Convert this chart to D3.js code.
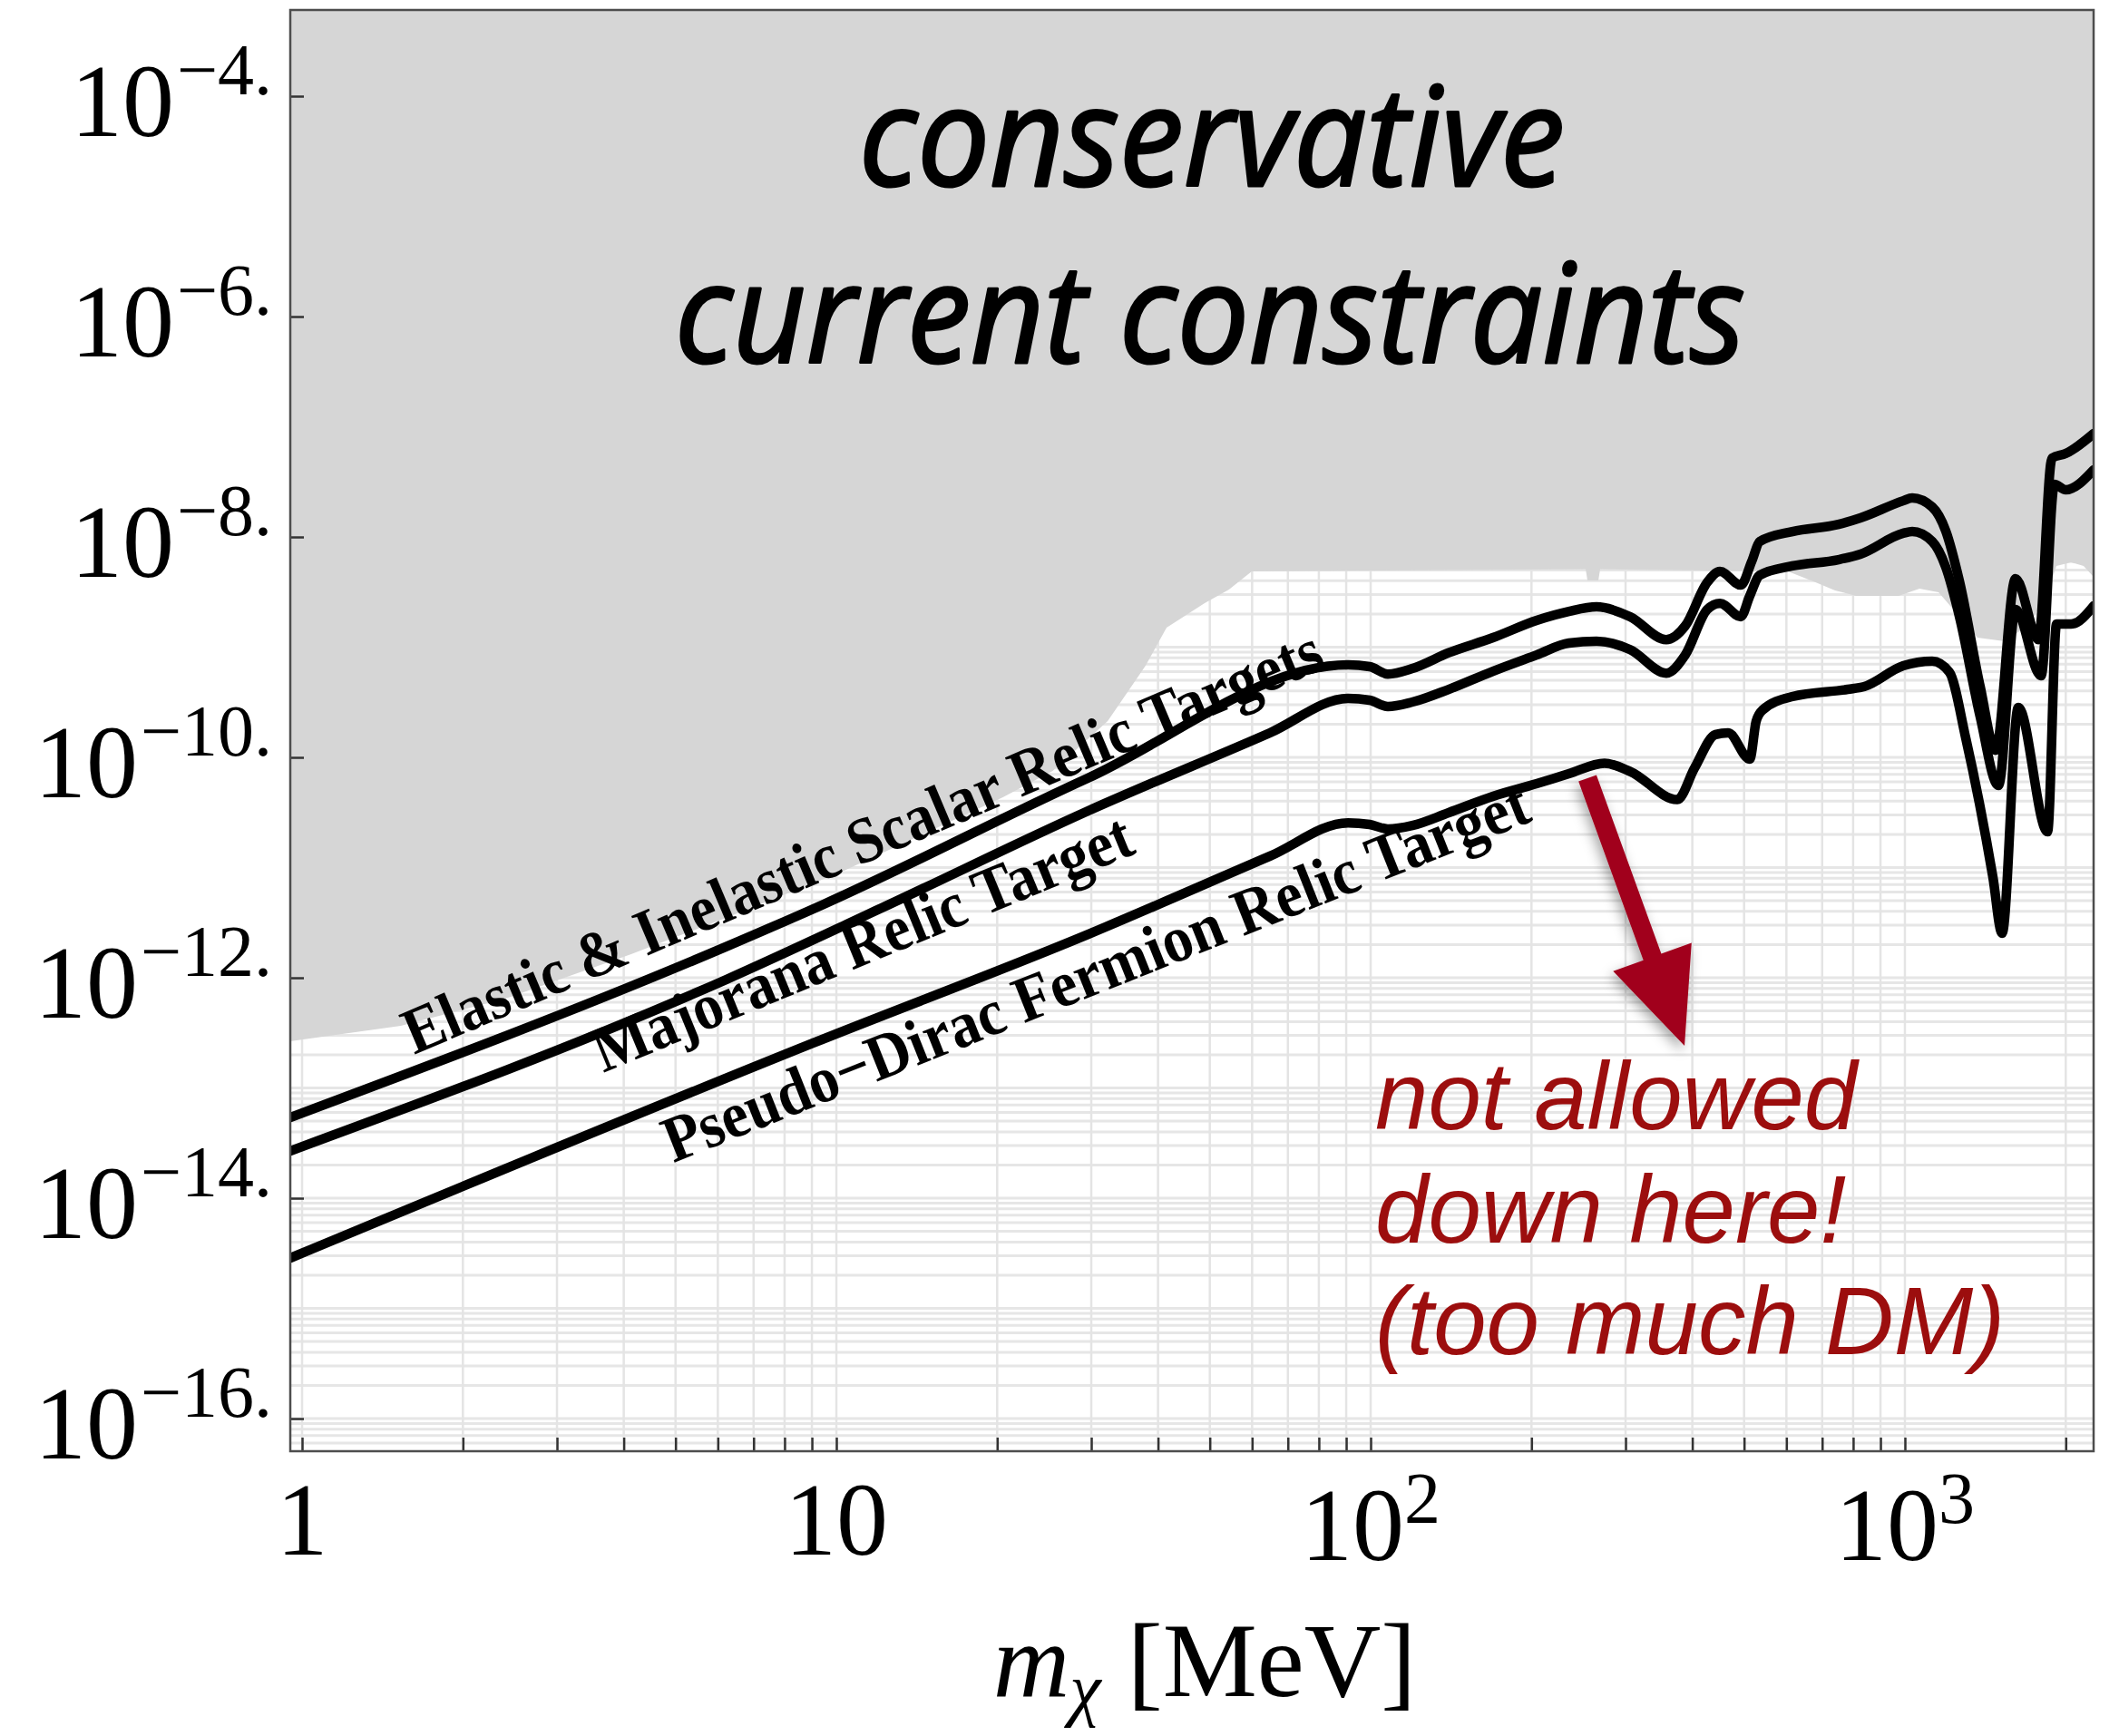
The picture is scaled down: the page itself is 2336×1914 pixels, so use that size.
<!DOCTYPE html>
<html>
<head>
<meta charset="utf-8">
<script src="https://cdn.jsdelivr.net/npm/d3@7"></script>
<style>
  body { margin: 0; background: #fff; }
  svg { display: block; }
</style>
</head>
<body>
<svg id="chart" width="2336" height="1914"></svg>
<script>
// ---- data: [m_chi in MeV, y] ----
const elasticScalarTarget = [
  [0.95, 5.4e-14], [6.21, 1.91e-12], [9.47, 4.65e-12], [29.6, 6.5e-11],
  [90.7, 6.9e-10], [99.6, 6.65e-10], [107.7, 5.7e-10], [119.7, 6.4e-10],
  [140, 8.9e-10], [169.4, 1.22e-9], [204.5, 1.75e-9], [235, 2.11e-9],
  [264.7, 2.32e-9], [306, 1.89e-9], [357.6, 1.17e-9], [388, 1.56e-9],
  [426.6, 3.87e-9], [450.6, 4.86e-9], [493, 3.66e-9], [516.7, 6.0e-9],
  [535, 9.1e-9], [615.6, 1.12e-8], [751, 1.30e-8], [825.5, 1.49e-8],
  [992.6, 2.13e-8], [1032, 2.26e-8], [1125, 1.87e-8], [1192, 1.14e-8],
  [1265, 3.95e-9], [1383, 4.39e-10], [1478, 1.16e-10], [1611, 4.18e-9],
  [1778, 1.17e-9], [1885, 5.2e-8], [1999, 5.71e-8], [2255, 8.67e-8]
];
const majoranaTarget = [
  [0.95, 2.68e-14], [6.21, 9.6e-13], [12.16, 4.3e-12], [29.6, 3.27e-11],
  [64.8, 1.67e-10], [90.7, 3.43e-10], [99.6, 3.30e-10], [107.7, 2.89e-10],
  [119.7, 3.18e-10], [140, 4.14e-10], [169.4, 6.05e-10], [204.5, 8.5e-10],
  [235, 1.09e-9], [264.7, 1.13e-9], [306, 9.5e-10], [357.6, 5.8e-10],
  [388, 8.5e-10], [426.6, 2.2e-9], [450.6, 2.5e-9], [493, 1.89e-9],
  [512.4, 2.92e-9], [535, 4.5e-9], [615.6, 5.46e-9], [751, 6.22e-9],
  [825.5, 6.98e-9], [992.6, 1.08e-8], [1032, 1.12e-8], [1125, 9.1e-9],
  [1192, 5.35e-9], [1265, 1.89e-9], [1383, 2.34e-10], [1496, 5.56e-11],
  [1611, 2.2e-9], [1798, 5.5e-10], [1905, 3.0e-8], [1999, 2.68e-8],
  [2255, 4.06e-8]
];
const pseudoDiracTarget = [
  [0.95, 2.86e-15], [9.03, 2.55e-13], [29.6, 2.48e-12], [64.8, 1.27e-11],
  [90.7, 2.55e-11], [99.6, 2.46e-11], [107.7, 2.24e-11], [119.7, 2.41e-11],
  [140, 3.15e-11], [169.4, 4.43e-11], [204.5, 5.77e-11], [235, 7.11e-11],
  [274, 8.85e-11], [306, 7.45e-11], [375, 4.14e-11], [404, 8.03e-11],
  [442, 1.61e-10], [466.8, 1.67e-10], [512.4, 9.63e-11], [526.7, 2.13e-10],
  [541, 2.68e-10], [615.6, 3.56e-10], [781.6, 4.14e-10], [839, 4.39e-10],
  [992.6, 6.78e-10], [1125, 7.45e-10], [1211, 5.94e-10], [1300, 1.49e-10],
  [1461, 8.2e-12], [1520, 2.53e-12], [1630, 2.84e-10], [1849, 2.11e-11],
  [1922, 1.62e-9], [2046, 1.62e-9], [2255, 2.37e-9]
];
// lower edge of the excluded (shaded) region
const constraintBoundary = [
  [0.9504, 2.65e-13], [1.53, 3.66e-13], [2.43, 6.59e-13], [4.13, 1.64e-12],
  [6.21, 3.49e-12], [10.16, 9.01e-12], [20.5, 4.35e-11], [25.4, 7.53e-11],
  [32.2, 2.13e-10], [37.9, 6.78e-10], [41.5, 1.50e-9], [48.9, 2.51e-9],
  [54.3, 3.33e-9], [59.9, 4.87e-9], [252.6, 5.1e-9], [254.6, 4.03e-9],
  [266.8, 4.03e-9], [268.9, 5.1e-9], [604, 4.87e-9], [674, 3.95e-9],
  [740, 3.27e-9], [810, 2.92e-9], [973, 2.92e-9], [1065, 3.40e-9],
  [1156, 3.15e-9], [1367, 1.22e-9], [1538, 1.13e-9], [1695, 1.56e-9],
  [1833, 2.75e-9], [1921, 5.46e-9], [2045, 5.89e-9], [2160, 5.46e-9],
  [2255, 4.35e-9]
];

const xTickValues = [1, 10, 100, 1000];
const xTickBases = ["1", "10", "10", "10"];
const xTickExponents = ["", "", "2", "3"];
const yTickValues = [1e-4, 1e-6, 1e-8, 1e-10, 1e-12, 1e-14, 1e-16];
const yTickExponents = ["\u22124.", "\u22126.", "\u22128.", "\u221210.", "\u221212.", "\u221214.", "\u221216."];

const curveLabels = [
  { text: "Elastic & Inelastic Scalar Relic Targets", at: [1.62, 2.0e-13], angle: -23.0, length: 1094 },
  { text: "Majorana Relic Target", at: [3.66, 1.37e-13], angle: -22.4, length: 637 },
  { text: "Pseudo\u2212Dirac Fermion Relic Target", at: [4.95, 2.09e-14], angle: -21.7, length: 1021 }
];
const arrowFrom = [254.6, 6.47e-11];
const arrowTo = [386.8, 2.42e-13];
const noteLines = ["not allowed", "down here!", "(too much DM)"];
const titleLines = ["conservative", "current constraints"];

// ---- layout ----
const W = 2336, H = 1914;
const frame = { left: 320, right: 2308, top: 11, bottom: 1600 };

const x = d3.scaleLog().domain([0.9504, 2255]).range([frame.left, frame.right]);
const y = d3.scaleLog().domain([Math.pow(10, -16.296), Math.pow(10, -3.2181)]).range([frame.bottom, frame.top]);

// 1..9 x 10^n positions inside a log domain
function logSubdivisions(scale) {
  const [a, b] = scale.domain().slice().sort((p, q) => p - q);
  const out = [];
  for (let e = Math.floor(Math.log10(a)); e <= Math.ceil(Math.log10(b)); e++) {
    for (let k = 1; k < 10; k++) {
      const v = k * Math.pow(10, e);
      if (v >= a && v <= b) out.push(v);
    }
  }
  return out;
}
const xMinor = logSubdivisions(x);
const yMinor = logSubdivisions(y);

const svg = d3.select("#chart");
svg.append("rect").attr("width", W).attr("height", H).attr("fill", "#fff");

const defs = svg.append("defs");
defs.append("clipPath").attr("id", "plotClip")
  .append("rect")
  .attr("x", frame.left).attr("y", frame.top)
  .attr("width", frame.right - frame.left).attr("height", frame.bottom - frame.top);
const shadow = defs.append("filter").attr("id", "arrowShadow")
  .attr("x", "-50%").attr("y", "-50%").attr("width", "200%").attr("height", "200%");
shadow.append("feDropShadow")
  .attr("dx", -3).attr("dy", 6).attr("stdDeviation", 7)
  .attr("flood-color", "#000").attr("flood-opacity", 0.35);

const plot = svg.append("g").attr("clip-path", "url(#plotClip)");

// grid
const grid = plot.append("g");
grid.selectAll("line.h").data(yMinor).join("line")
  .attr("class", "h")
  .attr("x1", frame.left).attr("x2", frame.right)
  .attr("y1", d => y(d)).attr("y2", d => y(d))
  .attr("stroke", "#e6e6e6").attr("stroke-width", 3);
grid.selectAll("line.v").data(xMinor).join("line")
  .attr("class", "v")
  .attr("y1", frame.top).attr("y2", frame.bottom)
  .attr("x1", d => x(d)).attr("x2", d => x(d))
  .attr("stroke", "#e4e4e4").attr("stroke-width", 2.5);

// excluded region
const [x0, x1] = x.domain();
const yTop = y.domain()[1];
const regionPts = constraintBoundary.concat([[x1, yTop], [x0, yTop]]);
plot.append("path")
  .attr("d", d3.line().x(d => x(d[0])).y(d => y(d[1]))(regionPts) + "Z")
  .attr("fill", "#d6d6d6");

// axes ticks
const xAxis = svg.append("g").attr("transform", `translate(0,${frame.bottom})`)
  .call(d3.axisBottom(x).tickValues(xMinor).tickSize(-15).tickFormat(""));
const yAxis = svg.append("g").attr("transform", `translate(${frame.left},0)`)
  .call(d3.axisLeft(y).tickValues(yTickValues).tickSize(-15).tickFormat(""));
[xAxis, yAxis].forEach(a => {
  a.select(".domain").remove();
  a.selectAll(".tick line").attr("stroke", "#333").attr("stroke-width", 2.5);
});

// frame
svg.append("rect")
  .attr("x", frame.left).attr("y", frame.top)
  .attr("width", frame.right - frame.left).attr("height", frame.bottom - frame.top)
  .attr("fill", "none").attr("stroke", "#4d4d4d").attr("stroke-width", 2.5);

// relic target curves
const line = d3.line().x(d => x(d[0])).y(d => y(d[1])).curve(d3.curveMonotoneX);
[elasticScalarTarget, majoranaTarget, pseudoDiracTarget].forEach(series => {
  plot.append("path")
    .attr("d", line(series))
    .attr("fill", "none").attr("stroke", "#000")
    .attr("stroke-width", 10.5)
    .attr("stroke-linejoin", "round").attr("stroke-linecap", "round");
});

// curve labels
curveLabels.forEach(l => {
  svg.append("text")
    .attr("transform", `translate(${x(l.at[0])},${y(l.at[1])}) rotate(${l.angle})`)
    .attr("font-family", "'Liberation Serif', 'Times New Roman', serif")
    .attr("font-weight", "bold").attr("font-size", 72)
    .attr("textLength", l.length).attr("lengthAdjust", "spacingAndGlyphs")
    .attr("fill", "#000")
    .text(l.text);
});

// y tick labels
yTickValues.forEach((v, i) => {
  const t = svg.append("text")
    .attr("x", 300).attr("y", y(v) + 44)
    .attr("text-anchor", "end")
    .attr("font-family", "'Liberation Serif', 'Times New Roman', serif")
    .attr("font-size", 114).attr("fill", "#000");
  t.append("tspan").text("10");
  t.append("tspan").attr("font-size", 80).attr("dy", -46).attr("dx", 3).text(yTickExponents[i]);
});

// x tick labels
xTickValues.forEach((v, i) => {
  const hasExp = xTickExponents[i] !== "";
  const t = svg.append("text")
    .attr("x", x(v)).attr("y", hasExp ? 1720 : 1714)
    .attr("text-anchor", "middle")
    .attr("font-family", "'Liberation Serif', 'Times New Roman', serif")
    .attr("font-size", 114).attr("fill", "#000");
  t.append("tspan").text(xTickBases[i]);
  if (hasExp) t.append("tspan").attr("font-size", 80).attr("dy", -41).text(xTickExponents[i]);
});

// x axis title
const xt = svg.append("text")
  .attr("x", 1328).attr("y", 1870)
  .attr("text-anchor", "middle")
  .attr("font-family", "'Liberation Serif', 'Times New Roman', serif")
  .attr("font-size", 117).attr("fill", "#000");
xt.append("tspan").attr("font-style", "italic").text("m");
xt.append("tspan").attr("font-style", "italic").attr("font-size", 78).attr("dy", 18).text("\u03c7");
xt.append("tspan").attr("dy", -18).text(" [MeV]");

// region title
const titleSpec = [
  { x: 947, y: 205, len: 778 },
  { x: 744, y: 400, len: 1180 }
];
titleLines.forEach((s, i) => {
  svg.append("text")
    .attr("x", titleSpec[i].x).attr("y", titleSpec[i].y)
    .attr("font-family", "'Open Sans', 'Noto Sans', sans-serif")
    .attr("font-style", "italic").attr("font-size", 152)
    .attr("textLength", titleSpec[i].len).attr("lengthAdjust", "spacingAndGlyphs")
    .attr("fill", "#000").attr("stroke", "#000").attr("stroke-width", 3)
    .attr("stroke-linejoin", "round")
    .text(s);
});

// arrow pointing into the disallowed region
(function drawArrow() {
  const sx = x(arrowFrom[0]), sy = y(arrowFrom[1]);
  const tx = x(arrowTo[0]), ty = y(arrowTo[1]);
  const dx = tx - sx, dy = ty - sy, L = Math.hypot(dx, dy);
  const ux = dx / L, uy = dy / L, px = -uy, py = ux;
  const headLen = 104, headHalf = 46, shaftHalf = 10.5;
  const bx = tx - ux * headLen, by = ty - uy * headLen;
  const pts = [
    [sx + px * shaftHalf, sy + py * shaftHalf],
    [bx + px * shaftHalf, by + py * shaftHalf],
    [bx + px * headHalf, by + py * headHalf],
    [tx, ty],
    [bx - px * headHalf, by - py * headHalf],
    [bx - px * shaftHalf, by - py * shaftHalf],
    [sx - px * shaftHalf, sy - py * shaftHalf]
  ];
  svg.append("path")
    .attr("d", d3.line()(pts) + "Z")
    .attr("fill", "#a1001f")
    .attr("filter", "url(#arrowShadow)");
})();

// note text
const noteBase = [1245, 1370, 1493];
noteLines.forEach((s, i) => {
  svg.append("text")
    .attr("x", 1516).attr("y", noteBase[i])
    .attr("font-family", "'Liberation Sans', Arial, sans-serif")
    .attr("font-style", "italic").attr("font-size", 105)
    .attr("fill", "#9c0e0e")
    .text(s);
});
</script>
</body>
</html>
